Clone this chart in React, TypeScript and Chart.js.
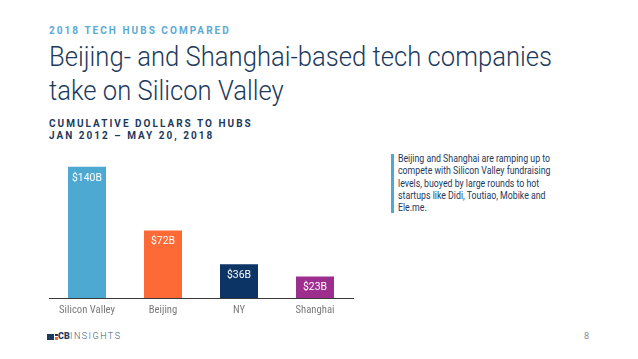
import React, { useEffect, useRef } from 'react';
import { Chart, registerables } from 'chart.js';

Chart.register(...registerables);

// ---------- data ----------
const categories = ['Silicon Valley', 'Beijing', 'NY', 'Shanghai'];
const values = [140, 72, 36, 23];
const valueLabels = ['$140B', '$72B', '$36B', '$23B'];
const barColors = ['#4ea9d2', '#fd6a36', '#0c3566', '#9e2e8e'];
const yMax = 160;

const eyebrow = '2018 TECH HUBS COMPARED';
const titleLines = ['Beijing- and Shanghai-based tech companies', 'take on Silicon Valley'];
const subtitleLines = ['CUMULATIVE DOLLARS TO HUBS', 'JAN 2012 \u2013 MAY 20, 2018'];
const noteLines = [
  'Beijing and Shanghai are ramping up to',
  'compete with Silicon Valley fundraising',
  'levels, buoyed by large rounds to hot',
  'startups like Didi, Toutiao, Mobike and',
  'Ele.me.',
];
const pageNumber = '8';

// ---------- helpers ----------
let mctx: CanvasRenderingContext2D | null = null;
function measure(text: string, font: string): number {
  if (!mctx) mctx = document.createElement('canvas').getContext('2d');
  mctx!.font = font;
  return mctx!.measureText(text).width;
}
function hasFont(name: string): boolean {
  const t = 'Silicon Valley $140B';
  const a = measure(t, '20px monospace');
  const b = measure(t, `20px "${name}", monospace`);
  const c = measure(t, '20px serif');
  const d = measure(t, `20px "${name}", serif`);
  return a !== b || c !== d;
}
const narrowFamily =
  ['Roboto Condensed', 'Liberation Sans Narrow'].find((f) => hasFont(f)) || 'Roboto';
const narrowCss = narrowFamily === 'Roboto' ? 'Roboto' : `"${narrowFamily}"`;

const NAVY = '#1d3a5c';

type TProps = {
  x: number;
  baseline: number;
  fs: number;
  weight?: number;
  color: string;
  text: string;
  scale?: number;
  ls?: number;
};
function T({ x, baseline, fs, weight = 400, color, text, scale = 1, ls = 0 }: TProps) {
  return (
    <div
      style={{
        position: 'absolute',
        left: x,
        top: baseline - 0.842 * fs,
        fontFamily: 'Roboto',
        fontSize: fs,
        lineHeight: `${fs}px`,
        fontWeight: weight,
        color,
        whiteSpace: 'pre',
        letterSpacing: ls,
        transform: `scaleX(${scale})`,
        transformOrigin: '0 0',
      }}
    >
      {text}
    </div>
  );
}

function BarChart() {
  const ref = useRef<HTMLCanvasElement>(null);
  useEffect(() => {
    const canvas = ref.current!;
    const tickSize = Math.min(11.5, (11 * 56) / measure('Silicon Valley', `11px ${narrowCss}`));
    const valFs = 11.5;
    const valScale = 30 / measure('$140B', `400 ${valFs}px Roboto`);

    const valuePlugin = {
      id: 'valueLabels',
      afterDatasetsDraw(chart: any) {
        const ctx = chart.ctx as CanvasRenderingContext2D;
        const meta = chart.getDatasetMeta(0);
        ctx.save();
        ctx.fillStyle = '#ffffff';
        ctx.font = `400 ${valFs}px Roboto`;
        ctx.textAlign = 'center';
        ctx.textBaseline = 'middle';
        meta.data.forEach((bar: any, i: number) => {
          ctx.save();
          ctx.translate(bar.x, bar.y + 11);
          ctx.scale(valScale, 1);
          ctx.fillText(valueLabels[i], 0, 0);
          ctx.restore();
        });
        ctx.restore();
      },
    };

    const chart = new Chart(canvas, {
      type: 'bar',
      data: {
        labels: categories,
        datasets: [
          {
            data: values,
            backgroundColor: barColors,
            borderWidth: 0,
            barPercentage: 0.5,
            categoryPercentage: 1,
          },
        ],
      },
      options: {
        animation: false,
        responsive: false,
        devicePixelRatio: 1,
        layout: { padding: { left: 9, right: 17, top: 8, bottom: 0 } },
        plugins: { legend: { display: false }, tooltip: { enabled: false } },
        scales: {
          x: {
            grid: { display: false, drawTicks: false },
            border: { display: true, color: '#3a3a3a', width: 1 },
            ticks: {
              color: '#7a7a7a',
              font: { family: narrowCss, size: tickSize },
              padding: 6,
              maxRotation: 0,
              autoSkip: false,
            },
            afterFit: (s: any) => {
              s.height = 22;
            },
          },
          y: { display: false, min: 0, max: yMax },
        },
      },
      plugins: [valuePlugin],
    });
    return () => chart.destroy();
  }, []);
  return (
    <div style={{ position: 'absolute', left: 40, top: 140, width: 330, height: 180 }}>
      <canvas ref={ref} width={330} height={180} style={{ width: 330, height: 180, display: 'block' }} />
    </div>
  );
}

export default function App() {
  const titleScale = 503 / measure(titleLines[0], '300 28px Roboto');
  const eyebrowLs =
    (180 - measure(eyebrow, '700 10px Roboto')) / (eyebrow.length - 1);
  const subLs =
    (202 - measure(subtitleLines[0], '700 10px Roboto')) / (subtitleLines[0].length - 1);
  const noteScale = 152 / measure(noteLines[0], '400 10.5px Roboto');
  const insLs = (50 - measure('INSIGHTS', '300 9px Roboto')) / 7;

  return (
    <div
      style={{
        position: 'fixed',
        left: 0,
        top: 0,
        width: 638,
        height: 359,
        background: '#ffffff',
        overflow: 'hidden',
      }}
    >
      <T x={49} baseline={34.3} fs={10} weight={700} color="#5aaad3" text={eyebrow} ls={eyebrowLs} />
      {titleLines.map((l, i) => (
        <T key={l} x={49} baseline={66.7 + i * 34} fs={28} weight={300} color={NAVY} text={l} scale={titleScale} />
      ))}
      {subtitleLines.map((l, i) => (
        <T key={l} x={49} baseline={127.5 + i * 12} fs={10} weight={700} color={NAVY} text={l} ls={subLs} />
      ))}

      <BarChart />

      <div style={{ position: 'absolute', left: 391, top: 154, width: 2.5, height: 59, background: '#4ea9d2' }} />
      {noteLines.map((l, i) => (
        <T key={l} x={398} baseline={162.7 + i * 12.4} fs={10.5} color={NAVY} text={l} scale={noteScale} />
      ))}

      {/* footer logo */}
      <div style={{ position: 'absolute', left: 47, top: 333.5, width: 7, height: 6, background: '#1d3a5c' }} />
      <div style={{ position: 'absolute', left: 55, top: 333.5, width: 2.5, height: 2.5, background: '#1d3a5c' }} />
      <div style={{ position: 'absolute', left: 55, top: 337, width: 2.5, height: 2.5, background: '#f26a36' }} />
      <T x={58} baseline={340} fs={9} weight={900} color={NAVY} text="CB" />
      <T x={70} baseline={340} fs={9} weight={300} color="#3d5675" text="INSIGHTS" ls={insLs} />
      <T x={584} baseline={340} fs={9} color="#8a8a8a" text={pageNumber} />
    </div>
  );
}
